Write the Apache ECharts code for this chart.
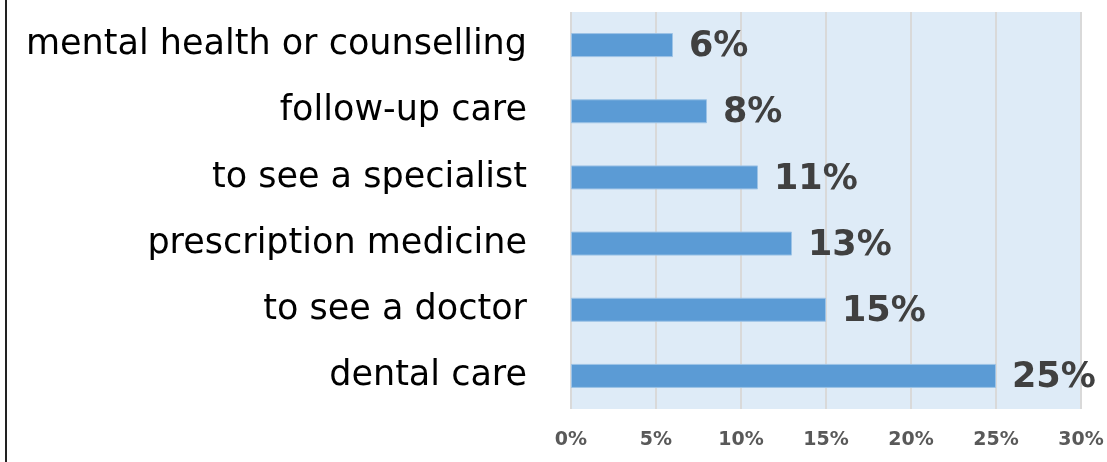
<!DOCTYPE html>
<html>
<head>
<meta charset="utf-8">
<script src="https://cdn.jsdelivr.net/npm/echarts@6/dist/echarts.min.js"></script>
<style>
html,body{margin:0;padding:0;background:#fff;}
#c{width:1107px;height:462px;position:relative;}
#frame{position:absolute;left:5px;top:0;width:2px;height:462px;background:#222;}
</style>
</head>
<body>
<div id="c"></div>
<div id="frame"></div>
<script>
var categories = ['dental care', 'to see a doctor', 'prescription medicine', 'to see a specialist', 'follow-up care', 'mental health or counselling'];
var values = [25, 15, 13, 11, 8, 6];
var tickLabels = ['0%', '5%', '10%', '15%', '20%', '25%', '30%'];

var chart = echarts.init(document.getElementById('c'), null, {renderer: 'canvas'});
chart.setOption({
  animation: false,
  grid: {left: 571, right: 26, top: 12, bottom: 53, show: true, backgroundColor: '#deebf7', borderWidth: 0, containLabel: false},
  xAxis: {
    type: 'value', min: 0, max: 30, interval: 5,
    axisLine: {show: false}, axisTick: {show: false},
    splitLine: {show: true, lineStyle: {color: '#d9d9d9', width: 2}},
    axisLabel: {
      margin: 22, color: '#595959', fontSize: 19, fontWeight: 'bold', fontFamily: 'DejaVu Sans',
      formatter: function (v) { return tickLabels[v / 5]; }
    }
  },
  yAxis: {
    type: 'category', data: categories,
    axisLine: {show: false}, axisTick: {show: false}, splitLine: {show: false},
    axisLabel: {margin: 44, color: '#000', fontSize: 35, fontFamily: 'DejaVu Sans'}
  },
  series: [{
    type: 'bar', data: values, barWidth: 24,
    itemStyle: {color: '#5b9bd5', borderColor: '#9dc3e6', borderWidth: 1},
    label: {
      show: true, position: 'right', distance: 16, color: '#404040', offset: [0, 2],
      fontSize: 35, fontWeight: 'bold', fontFamily: 'DejaVu Sans',
      formatter: function (p) { return p.value + '%'; }
    }
  }]
});
</script>
</body>
</html>
